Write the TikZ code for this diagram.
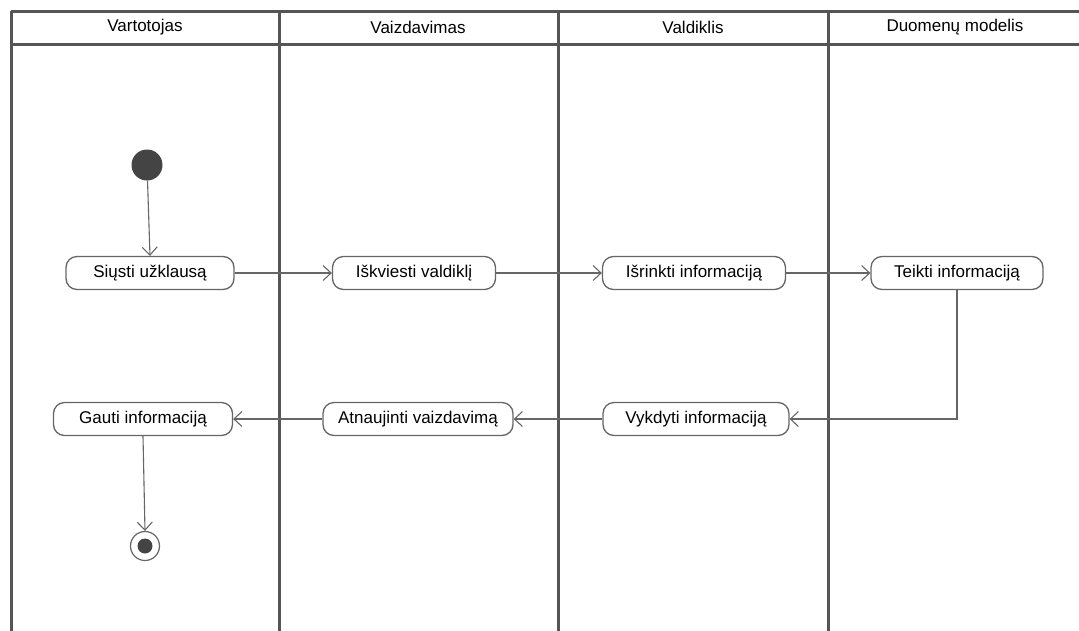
\documentclass[tikz,border=0pt]{standalone}
\usepackage{fontspec}
\setmainfont{Liberation Sans}
\usetikzlibrary{arrows.meta,positioning}
\definecolor{lane}{HTML}{555555}
\definecolor{edge}{HTML}{666666}
\definecolor{dot}{HTML}{444444}
\begin{document}
\begin{tikzpicture}[x=1pt,y=-1pt,
  act/.style={draw=edge,line width=1.3pt,rounded corners=11pt,minimum height=33pt,inner xsep=0pt,font=\fontsize{17}{19}\selectfont,fill=white},
  hdr/.style={font=\fontsize{17}{19}\selectfont},
  flow/.style={draw=edge,line width=1.1pt,-{Straight Barb[length=8pt,width=15pt,line width=1.1pt]}},
  lanel/.style={draw=lane,line width=3pt}]
\useasboundingbox (0,0) rectangle (1079,630);
\fill[white] (0,0) rectangle (1079,630);
% lanes
\draw[lanel] (11,11) -- (1085,11);
\draw[lanel] (11,44) -- (1085,44);
\draw[lanel] (11,11) -- (11,632);
\draw[lanel] (279,11) -- (279,632);
\draw[lanel] (558,11) -- (558,632);
\draw[lanel] (828,11) -- (828,632);
\node[hdr] (h1) at (145,27) {Vartotojas};
\node[hdr] (h2) at (418,27) {Vaizdavimas};
\node[hdr] (h3) at (693,27) {Valdiklis};
\node[hdr] (h4) at (955,27) {Duomenų modelis};
% nodes
\node[circle,fill=dot,minimum size=31pt,inner sep=0pt] (start) at (147,165) {};
\node[act,minimum width=168pt] (a1) at (150,273) {Siųsti užklausą};
\node[act,minimum width=163pt] (a2) at (414,273) {Iškviesti valdiklį};
\node[act,minimum width=183pt] (a3) at (694,273) {Išrinkti informaciją};
\node[act,minimum width=172pt] (a4) at (957,273) {Teikti informaciją};
\node[act,minimum width=186pt] (a5) at (696,419) {Vykdyti informaciją};
\node[act,minimum width=190pt] (a6) at (418,419) {Atnaujinti vaizdavimą};
\node[act,minimum width=179pt] (a7) at (143,419) {Gauti informaciją};
\node[circle,draw=edge,line width=1.2pt,fill=white,minimum size=29pt,inner sep=0pt] (end) at (145,546) {};
\node[circle,fill=dot,minimum size=15pt,inner sep=0pt] (endin) at (end.center) {};
% flows
\draw[flow] (start) -- (a1.north);
\draw[flow] (a1) -- (a2);
\draw[flow] (a2) -- (a3);
\draw[flow] (a3) -- (a4);
\draw[flow] (a4.south) |- (a5.east);
\draw[flow] (a5) -- (a6);
\draw[flow] (a6) -- (a7);
\draw[flow] (a7.south) -- (end.north);
\end{tikzpicture}
\end{document}
